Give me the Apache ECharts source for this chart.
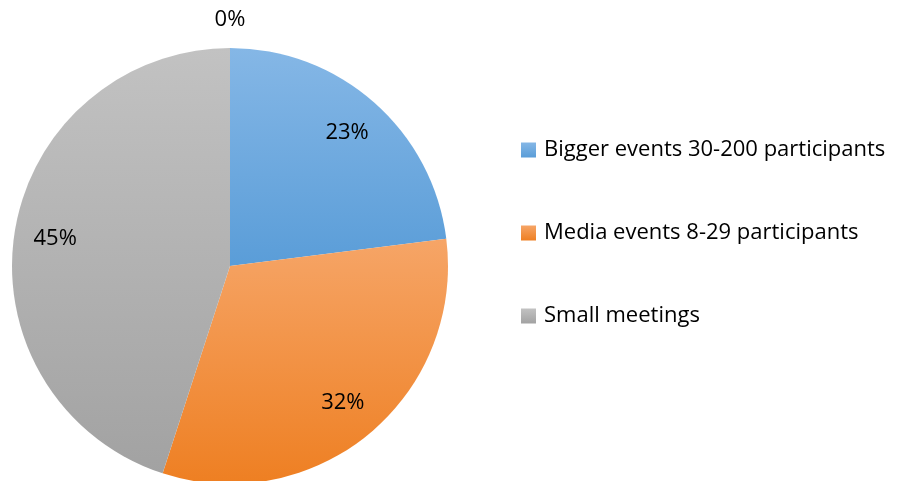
<!DOCTYPE html>
<html><head><meta charset="utf-8">
<script src="https://cdn.jsdelivr.net/npm/echarts@6/dist/echarts.min.js"></script>
<style>html,body{margin:0;padding:0;background:#fff}#c{width:912px;height:481px}</style>
</head><body><div id="c"></div>
<script>
const categories = ['Bigger events 30-200 participants', 'Media events 8-29 participants', 'Small meetings', ''];
const values = [23, 32, 45, 0];
const legendNames = ['Bigger events 30-200 participants', 'Media events 8-29 participants', 'Small meetings'];

const grads = [
  ['#85B7E6', '#5A9DD8'],
  ['#F6A567', '#EE7F22'],
  ['#C2C2C2', '#A2A2A2'],
  ['#C2C2C2', '#A2A2A2']
];
function grad(i){
  return {type:'linear', x:0, y:0, x2:0, y2:1, colorStops:[{offset:0,color:grads[i][0]},{offset:1,color:grads[i][1]}]};
}
const FONT = 'Open Sans';
const total = values.reduce((a,b)=>a+b,0);
const fmt = p => Math.round(p.value / total * 100) + '%';

const chart = echarts.init(document.getElementById('c'), null, {renderer:'canvas'});
chart.setOption({
  animation:false,
  legend:{
    orient:'vertical', left:516, top:132, itemWidth:15, itemHeight:15, itemGap:57,
    icon:'rect',
    textStyle:{fontFamily:FONT, fontSize:22, color:'#000', lineHeight:26, padding:[0,0,0,3]},
    data: legendNames.map((n,i)=>({name:n, itemStyle:{color:grad(i)}}))
  },
  series:[
    {
      type:'pie', center:[230,266], radius:[0,218], startAngle:90, clockwise:true,
      label:{show:false}, labelLine:{show:false}, silent:true,
      data: categories.map((c,i)=>({name:c, value:values[i], itemStyle:{color:grad(i)}}))
    },
    {
      type:'pie', center:[230,266], radius:[130,218], startAngle:90, clockwise:true,
      avoidLabelOverlap:false, silent:true, legendHoverLink:false,
      itemStyle:{color:'rgba(0,0,0,0)'},
      label:{show:true, position:'inside', formatter:fmt, fontFamily:FONT, fontSize:22, color:'#000'},
      labelLine:{show:false},
      labelLayout: p => p.dataIndex === 3 ? {align:'center', verticalAlign:'middle'} : {},
      data: categories.map((c,i)=>({
        name: c + ' ', value: values[i],
        label: values[i] === 0 ? {position:'outside', distanceToLabelLine:0} : undefined,
        labelLine: values[i] === 0 ? {show:false, length:28, length2:0} : undefined
      }))
    }
  ]
});
</script></body></html>
